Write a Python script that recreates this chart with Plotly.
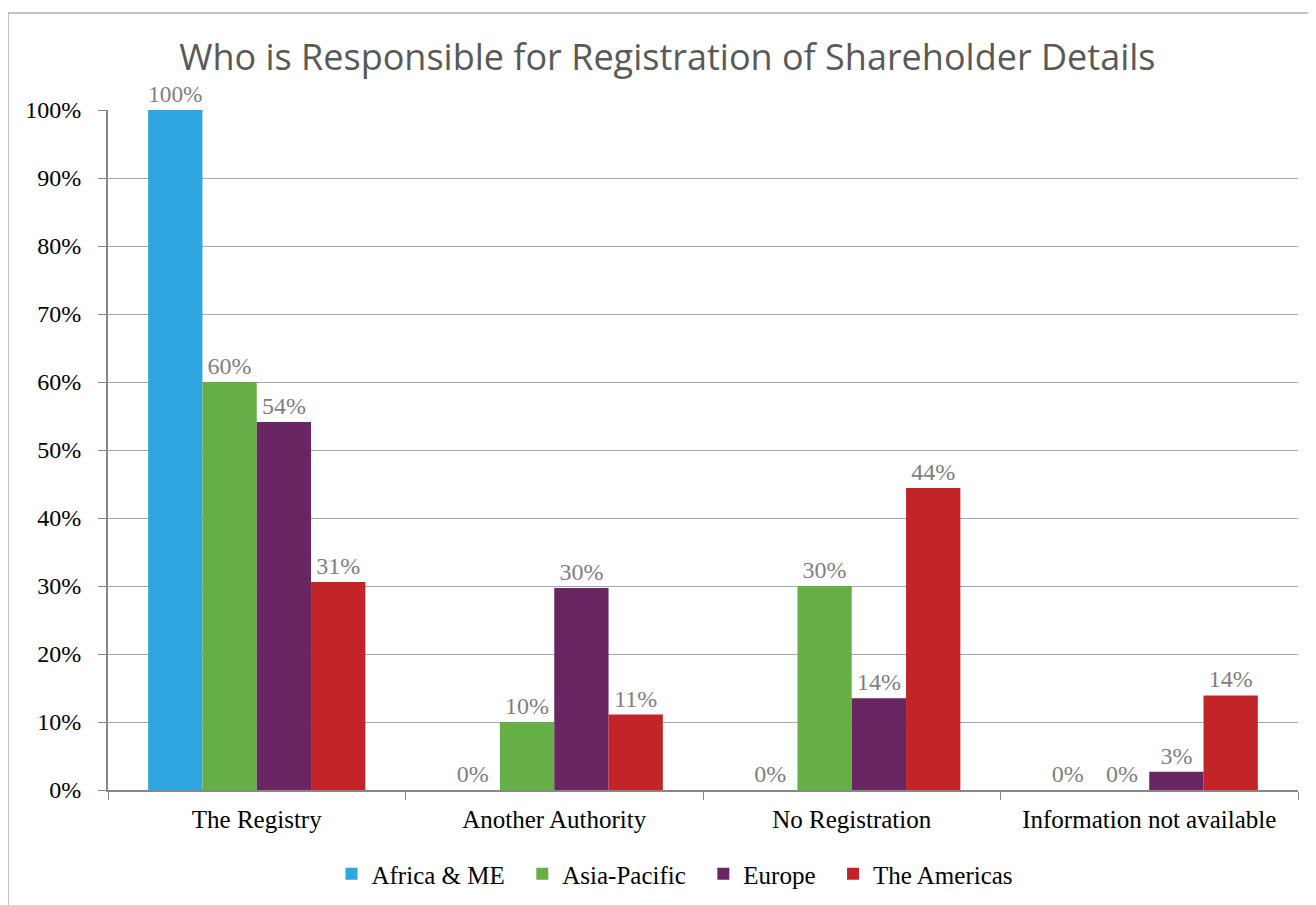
import plotly.graph_objects as go

categories = ["The Registry", "Another Authority", "No Registration", "Information not available"]
series_names = ["Africa &amp; ME", "Asia-Pacific", "Europe", "The Americas"]
africa_me = [100, 0, 0, 0]
asia_pacific = [60, 10, 30, 0]
europe = [54.1, 29.7, 13.5, 2.7]
americas = [30.6, 11.1, 44.4, 13.9]
y_tick_vals = [0, 10, 20, 30, 40, 50, 60, 70, 80, 90, 100]
y_tick_text = [f"{v}%" for v in y_tick_vals]

colors = ["#2FA6DF", "#66AF46", "#6A2563", "#C22428"]
serif = "Liberation Serif"

fig = go.Figure()
for name, vals, col in zip(series_names, [africa_me, asia_pacific, europe, americas], colors):
    fig.add_trace(go.Bar(
        x=categories, y=vals, name=name + "&nbsp;&nbsp;",
        marker=dict(color=col, line=dict(width=0)),
        texttemplate="%{y:.0f}%", textposition="outside",
        textfont=dict(family=serif, size=24, color="#7f7f7f"),
        cliponaxis=False,
    ))

W, H = 1316, 905
L, T, PW, PH = 100, 102, 1190, 680
fig.update_layout(
    width=W, height=H,
    margin=dict(l=L, r=W - L - PW, t=T, b=H - T - PH),
    paper_bgcolor="white", plot_bgcolor="white",
    barmode="group", bargap=0.27, bargroupgap=0,
    title=dict(text="Who is Responsible for Registration of Shareholder Details",
               x=0.501, xanchor="center", y=1 - 49 / H, yanchor="middle",
               font=dict(family="Open Sans", size=36, color="#595959")),
    legend=dict(orientation="h", x=0.4815, xanchor="center", y=-(866 - (T + PH)) / PH, yanchor="middle",
                font=dict(family=serif, size=25, color="black"),
                itemwidth=30, traceorder="normal"),
    shapes=[dict(type="rect", xref="paper", yref="paper",
                 x0=-L / PW, x1=1.05, y0=-0.25, y1=(T + PH - 5) / PH,
                 line=dict(color="#b0b0b0", width=1.5), fillcolor="rgba(0,0,0,0)", layer="below")],
)
fig.update_xaxes(
    type="category", tickson="boundaries", ticks="outside", ticklen=8,
    tickcolor="#878787", showline=True, linecolor="#878787", linewidth=2,
    tickfont=dict(family=serif, size=25, color="black"), showgrid=False,
    ticklabelstandoff=6,
)
fig.update_yaxes(
    range=[0, 100], tickvals=y_tick_vals, ticktext=y_tick_text,
    ticks="outside", ticklen=8, tickcolor="#878787",
    showline=True, linecolor="#878787", linewidth=2,
    showgrid=True, gridcolor="#a6a6a6", gridwidth=1,
    tickfont=dict(family=serif, size=24, color="black"),
    zeroline=False, ticklabelstandoff=12,
)
fig.write_html("out.html")
